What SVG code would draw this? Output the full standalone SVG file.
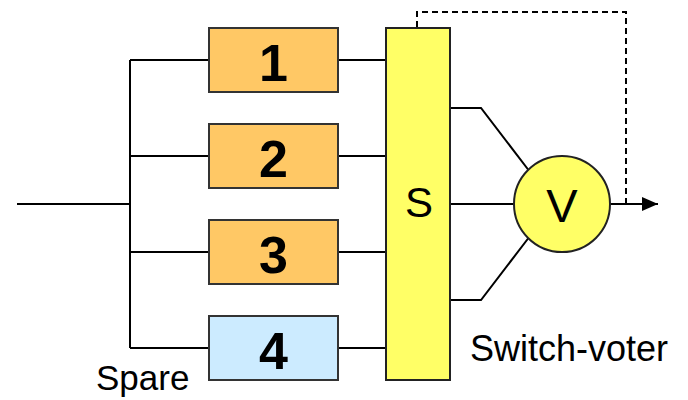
<svg xmlns="http://www.w3.org/2000/svg" width="688" height="400" viewBox="0 0 688 400">
  <defs>
    <marker id="arrow" markerWidth="16" markerHeight="14" refX="16" refY="7" orient="auto" markerUnits="userSpaceOnUse">
      <path d="M0,0 L16,7 L0,14 Z" fill="#000"/>
    </marker>
    <style>
      .wire { fill: none; stroke: #000; stroke-width: 2; }
      .dash { fill: none; stroke: #000; stroke-width: 2; stroke-dasharray: 6 4; }
      .box { stroke: #333; stroke-width: 2; }
      .primary { fill: #FFC865; }
      .spare { fill: #CCEBFF; }
      .yellow { fill: #FFFF66; stroke: #222; stroke-width: 2; }
      .num { font-family: "Liberation Sans", Arial, sans-serif; font-weight: bold; font-size: 52px; text-anchor: middle; fill: #000; }
      .lbl { font-family: "Liberation Sans", Arial, sans-serif; fill: #000; }
    </style>
  </defs>

  <!-- connectors -->
  <g id="connectors">
    <!-- input and distribution bus -->
    <path class="wire" d="M17,204 H130"/>
    <path class="wire" d="M130,60 V348"/>
    <path class="wire" d="M130,60 H209 M130,156 H209 M130,252 H209 M130,348 H209"/>
    <!-- module outputs into the switch -->
    <path class="wire" d="M338,60 H386 M338,156 H386 M338,252 H386 M338,348 H386"/>
    <!-- switch outputs into the voter -->
    <path class="wire" d="M450,108 H481 L530,172"/>
    <path class="wire" d="M450,204 H514"/>
    <path class="wire" d="M450,300 H481 L530,236"/>
    <!-- voter output -->
    <path class="wire" d="M610,204 H658" marker-end="url(#arrow)"/>
    <!-- feedback from output to switch -->
    <path class="dash" d="M626,204 V12 H417 V28"/>
  </g>

  <g id="module-1">
    <rect class="box primary" x="209" y="28" width="129" height="64"/>
    <text class="num" x="273.5" y="81">1</text>
  </g>
  <g id="module-2">
    <rect class="box primary" x="209" y="124" width="129" height="64"/>
    <text class="num" x="273.5" y="177">2</text>
  </g>
  <g id="module-3">
    <rect class="box primary" x="209" y="220" width="129" height="64"/>
    <text class="num" x="273.5" y="273">3</text>
  </g>
  <g id="module-4">
    <rect class="box spare" x="209" y="316" width="129" height="64"/>
    <text class="num" x="273.5" y="369">4</text>
  </g>

  <g id="switch">
    <rect class="yellow" x="386" y="28" width="64" height="352"/>
    <text class="lbl" x="419" y="217" font-size="42" text-anchor="middle">S</text>
  </g>

  <g id="voter">
    <circle class="yellow" cx="562" cy="204" r="48"/>
    <text class="lbl" x="562" y="222" font-size="47" text-anchor="middle">V</text>
  </g>

  <g id="labels">
    <text class="lbl" x="96" y="390" font-size="35">Spare</text>
    <text class="lbl" x="470" y="361" font-size="36">Switch-voter</text>
  </g>
</svg>
